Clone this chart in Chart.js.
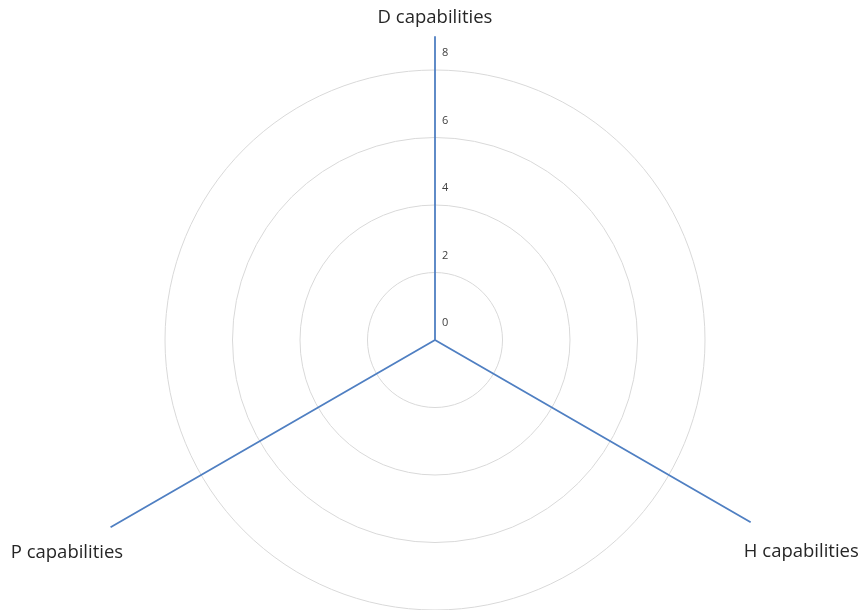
<!DOCTYPE html>
<html>
<head>
<meta charset="utf-8">
<script src="https://cdn.jsdelivr.net/npm/chart.js@4/dist/chart.umd.min.js"></script>
<style>
  html, body { margin: 0; padding: 0; background: #ffffff; }
  #wrap { width: 861px; height: 610px; }
</style>
</head>
<body>
<div id="wrap"><canvas id="chart" width="861" height="610"></canvas></div>
<script>
// Capability axes
const categories = ['D capabilities', 'H capabilities', 'P capabilities'];
// One spoke per capability (value on its own axis, zero elsewhere)
const dValues = [9.0, 0, 0];
const hValues = [0, 10.8, 0];
const pValues = [0, 0, 11.1];
// Radial scale ticks
const tickValues = [0, 2, 4, 6, 8];

const LINE_COLOR = '#4f7fc2';
const FONT = '"Open Sans", "Liberation Sans", sans-serif';

// Category labels drawn around the scale, plus tick labels (including 0)
const labelPlugin = {
  id: 'capLabels',
  afterDraw(chart, args, opts) {
    const r = chart.scales.r;
    const ctx = chart.ctx;
    ctx.save();
    // tick values to the right of the vertical spoke
    ctx.font = '11px ' + FONT;
    ctx.fillStyle = '#404040';
    ctx.textAlign = 'left';
    ctx.textBaseline = 'middle';
    r.ticks.forEach(t => {
      const d = r.getDistanceFromCenterForValue(t.value);
      ctx.fillText(t.label, r.xCenter + 7, r.yCenter - d - 17);
    });
    // category names
    ctx.font = '18.5px ' + FONT;
    ctx.fillStyle = '#262626';
    ctx.textAlign = 'center';
    chart.data.labels.forEach((lab, i) => {
      const p = r.getPointPosition(i, opts.distances[i]);
      ctx.fillText(lab, p.x, p.y);
    });
    ctx.restore();
  }
};

const spoke = (label, data) => ({
  label, data,
  borderColor: LINE_COLOR,
  borderWidth: 1.8,
  backgroundColor: 'transparent',
  fill: false,
  pointRadius: 0,
  pointHoverRadius: 0,
  clip: false
});

new Chart(document.getElementById('chart'), {
  type: 'radar',
  data: {
    labels: categories,
    datasets: [
      spoke('D', dValues),
      spoke('H', hValues),
      spoke('P', pValues)
    ]
  },
  options: {
    responsive: false,
    animation: false,
    layout: { padding: { top: 70, bottom: -2, left: 9, right: 0 } },
    plugins: {
      legend: { display: false },
      tooltip: { enabled: false },
      capLabels: { distances: [322, 423, 425] }
    },
    scales: {
      r: {
        min: 0,
        max: 8,
        afterBuildTicks(scale) {
          scale.ticks = tickValues.map(v => ({ value: v, label: String(v) }));
        },
        angleLines: { display: false },
        grid: { color: '#d9d9d9', lineWidth: 1, circular: true },
        pointLabels: { display: false },
        ticks: { display: false, stepSize: 2 }
      }
    }
  },
  plugins: [labelPlugin]
});
</script>
</body>
</html>
